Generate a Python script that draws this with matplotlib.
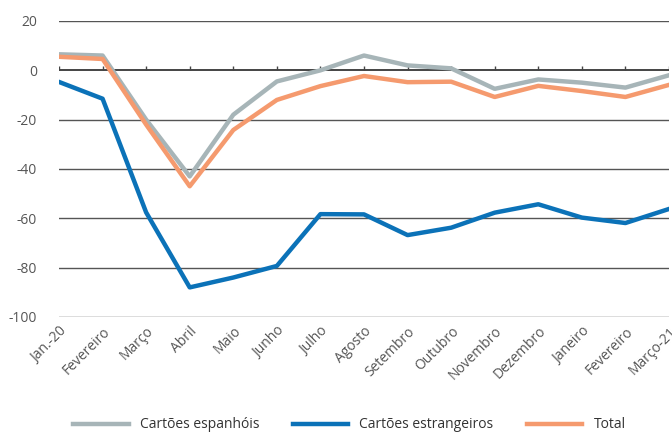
import numpy as np
from matplotlib import pyplot as plt

# data
months = ['Jan.-20', 'Fevereiro', 'Março', 'Abril', 'Maio', 'Junho', 'Julho', 'Agosto',
          'Setembro', 'Outubro', 'Novembro', 'Dezembro', 'Janeiro', 'Fevereiro', 'Março-21']
espanhois = [6.5, 6, -20, -43, -18, -4.5, 0, 6, 2, 0.8, -7.5, -3.7, -5, -7, -2]
estrangeiros = [-4.7, -11.5, -57.6, -88, -84, -79.3, -58.3, -58.4, -66.8, -63.8, -57.7, -54.3, -59.7, -61.9, -56.2]
total = [5.5, 4.6, -22, -47, -24.2, -12, -6.4, -2.3, -4.8, -4.6, -10.8, -6.3, -8.4, -10.8, -5.9]

x = np.arange(len(months))

plt.rcParams['font.family'] = ['Open Sans', 'DejaVu Sans']
plt.rcParams['axes.unicode_minus'] = False

fig = plt.figure(figsize=(6.72, 4.32), dpi=100)
ax = fig.add_axes([59 / 672, 1 - 317 / 432, 610 / 672, 296 / 432])

ax.plot(x, espanhois, color='#a7b5b8', linewidth=3.2, label='Cartões espanhóis', zorder=3)
ax.plot(x, estrangeiros, color='#0b72b8', linewidth=3.2, label='Cartões estrangeiros', zorder=3)
ax.plot(x, total, color='#f59a6e', linewidth=3.2, label='Total', zorder=4)

ax.set_xlim(0, len(months) - 1)
ax.set_ylim(-100, 20)
ax.set_yticks(np.arange(-100, 21, 20))
for v in np.arange(-100, 21, 20):
    if v != 0:
        ax.axhline(v, color='#555555', linewidth=1, zorder=1)
ax.axhline(0, color='#444444', linewidth=1.4, zorder=2)
# small upward tick marks on the zero line
ax.vlines(x, 0, 1.6, color='#444444', linewidth=1, zorder=2)

for s in ax.spines.values():
    s.set_visible(False)
ax.tick_params(axis='both', length=0, labelsize=10, labelcolor='#555555')
ax.tick_params(axis='y', pad=16)
ax.set_xticks(x)
ax.set_xticklabels(months, rotation=45, ha='right', rotation_mode='anchor')
ax.tick_params(axis='x', pad=5)

fig.legend(loc='lower center', bbox_to_anchor=(0.52, -0.03), ncol=3, frameon=False,
           fontsize=10, handlelength=4, handletextpad=0.8, columnspacing=2.4,
           labelcolor='#333333')

fig.savefig('out.png', dpi=100)
